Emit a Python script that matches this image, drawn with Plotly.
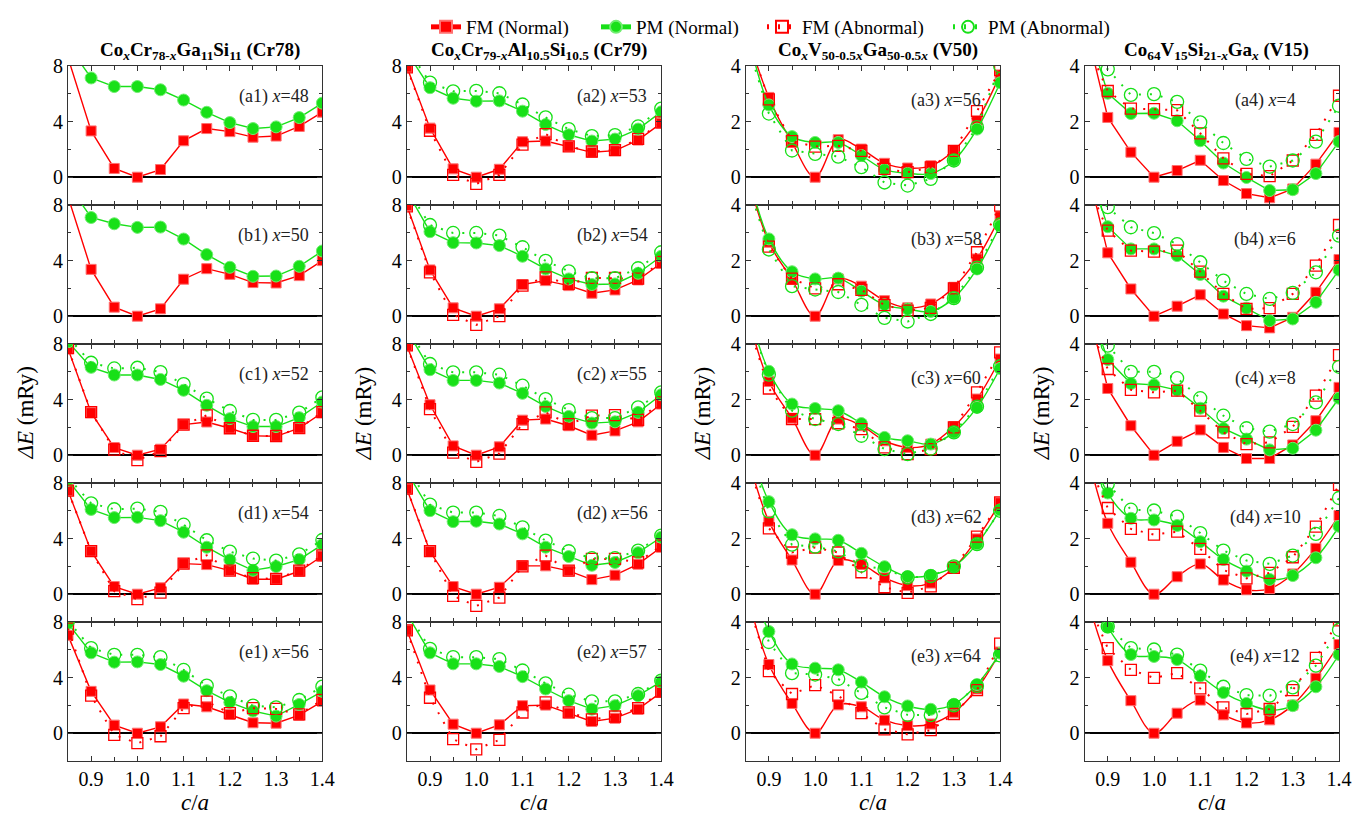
import plotly.graph_objects as go
from plotly.subplots import make_subplots

CA = [0.85, 0.9, 0.95, 1.0, 1.05, 1.1, 1.15, 1.2, 1.25, 1.3, 1.35, 1.4]
ROW_LETTERS = ["a", "b", "c", "d", "e"]

TITLES = [
    "<b>Co<sub><i>x</i></sub>Cr<sub>78-<i>x</i></sub>Ga<sub>11</sub>Si<sub>11</sub> (Cr78)</b>",
    "<b>Co<sub><i>x</i></sub>Cr<sub>79-<i>x</i></sub>Al<sub>10.5</sub>Si<sub>10.5</sub> (Cr79)</b>",
    "<b>Co<sub><i>x</i></sub>V<sub>50-0.5<i>x</i></sub>Ga<sub>50-0.5<i>x</i></sub> (V50)</b>",
    "<b>Co<sub>64</sub>V<sub>15</sub>Si<sub>21-<i>x</i></sub>Ga<sub><i>x</i></sub> (V15)</b>",
]
X_CONTENT = [[48, 50, 52, 54, 56], [53, 54, 55, 56, 57], [56, 58, 60, 62, 64], [4, 6, 8, 10, 12]]

# ---- Cr78 ----
FM_CR78 = [
    [8.6, 3.33, 0.63, 0, 0.55, 2.62, 3.5, 3.28, 2.88, 2.96, 3.65, 4.68],
    [8.6, 3.37, 0.65, 0, 0.53, 2.66, 3.42, 3.01, 2.42, 2.39, 2.92, 4.0],
    [7.66, 3.06, 0.55, 0, 0.43, 2.2, 2.39, 1.94, 1.39, 1.36, 1.94, 3.06],
    [7.45, 3.09, 0.55, 0, 0.46, 2.2, 2.13, 1.7, 1.08, 1.08, 1.65, 2.75],
    [7.04, 3.01, 0.58, 0, 0.46, 2.1, 1.9, 1.35, 0.75, 0.72, 1.3, 2.29],
]
PM_CR78 = [
    [9.5, 7.14, 6.52, 6.52, 6.29, 5.55, 4.67, 3.93, 3.5, 3.62, 4.29, 5.33],
    [9.5, 7.1, 6.65, 6.39, 6.41, 5.55, 4.43, 3.52, 2.87, 2.89, 3.59, 4.69],
    [8.15, 6.32, 5.77, 5.77, 5.45, 4.67, 3.59, 2.63, 2.06, 2.06, 2.7, 3.83],
    [8.2, 6.1, 5.51, 5.53, 5.29, 4.46, 3.38, 2.47, 1.72, 1.99, 2.49, 3.57],
    [7.9, 5.78, 5.11, 5.13, 4.94, 4.1, 3.06, 2.22, 1.59, 1.23, 2.07, 3.01],
]
FMA_CR78 = [
    None,
    None,
    [7.7, 3.1, 0.4, -0.36, 0.3, 2.2, 2.87, 1.94, 1.4, 1.38, 1.95, 3.1],
    [7.45, 3.1, 0.22, -0.36, 0.12, 2.2, 2.8, 1.7, 1.15, 1.1, 1.7, 2.8],
    [7.52, 2.7, -0.12, -0.72, -0.22, 1.81, 2.27, 1.45, 1.8, 1.75, 1.35, 2.4],
]
PMA_CR78 = [
    None,
    None,
    [8.5, 6.65, 6.24, 6.29, 5.98, 5.12, 4.07, 3.18, 2.54, 2.54, 3.06, 4.16],
    [8.4, 6.54, 6.11, 6.16, 5.92, 5.0, 3.88, 3.07, 2.56, 2.42, 2.87, 3.9],
    [8.1, 6.12, 5.64, 5.64, 5.47, 4.55, 3.42, 2.65, 1.98, 1.86, 2.39, 3.35],
]

# ---- Cr79 ----
FM_CR79 = [
    [7.92, 3.53, 0.6, 0, 0.57, 2.55, 2.6, 2.22, 1.79, 1.91, 2.67, 3.89],
    [7.95, 3.33, 0.6, 0, 0.53, 2.28, 2.56, 2.2, 1.65, 1.89, 2.61, 3.81],
    [7.88, 3.63, 0.67, 0, 0.6, 2.52, 2.6, 2.12, 1.44, 1.75, 2.4, 3.68],
    [7.57, 3.07, 0.55, 0, 0.5, 2.04, 2.04, 1.68, 1.05, 1.37, 2.16, 3.38],
    [7.4, 3.11, 0.65, 0, 0.6, 1.98, 2.02, 1.45, 0.84, 1.08, 1.73, 2.94],
]
PM_CR79 = [
    [9.0, 6.44, 5.68, 5.47, 5.49, 4.75, 3.79, 3.05, 2.6, 2.74, 3.46, 4.7],
    [9.0, 6.08, 5.29, 5.27, 5.08, 4.31, 3.4, 2.68, 2.28, 2.32, 3.09, 4.31],
    [9.0, 6.15, 5.38, 5.38, 5.19, 4.45, 3.51, 2.79, 2.31, 2.4, 3.08, 4.35],
    [8.8, 6.01, 5.22, 5.25, 5.05, 4.34, 3.38, 2.71, 2.08, 2.28, 2.99, 4.1],
    [8.6, 5.78, 4.99, 4.99, 4.8, 4.07, 3.18, 2.34, 1.73, 1.98, 2.7, 3.71],
]
FMA_CR79 = [
    [7.9, 3.34, 0.17, -0.48, 0.17, 2.34, 3.1, 2.22, 1.85, 1.95, 2.75, 3.95],
    [7.9, 3.16, 0.1, -0.62, 0.0, 2.2, 2.8, 2.32, 2.75, 2.75, 2.7, 3.9],
    [7.9, 3.32, 0.19, -0.48, 0.12, 2.24, 3.08, 2.24, 2.84, 2.88, 2.55, 3.8],
    [7.6, 3.1, -0.12, -0.84, -0.24, 2.0, 2.78, 1.7, 2.54, 2.54, 2.3, 3.5],
    [7.4, 2.55, -0.43, -1.16, -0.48, 1.49, 2.22, 1.5, 1.0, 1.2, 1.8, 3.0],
]
PMA_CR79 = [
    [9.3, 6.8, 6.18, 6.21, 6.04, 5.23, 4.3, 3.46, 2.96, 3.03, 3.65, 4.94],
    [9.2, 6.56, 5.99, 5.99, 5.8, 4.96, 3.98, 3.23, 2.73, 2.73, 3.45, 4.6],
    [9.2, 6.56, 5.96, 5.96, 5.79, 5.0, 4.04, 3.25, 2.67, 2.67, 3.44, 4.52],
    [9.2, 6.44, 5.87, 5.87, 5.63, 4.81, 3.86, 3.09, 2.59, 2.59, 3.14, 4.22],
    [8.8, 6.07, 5.47, 5.47, 5.33, 4.51, 3.59, 2.77, 2.29, 2.29, 2.82, 3.78],
]

# ---- V50 ----
FM_V50 = [
    [5.3, 2.87, 1.25, 0, 1.35, 1.01, 0.5, 0.33, 0.41, 0.96, 2.03, 3.68],
    [5.3, 2.66, 1.32, 0, 1.34, 1.08, 0.56, 0.3, 0.44, 1.04, 2.06, 3.58],
    [5.3, 2.65, 1.33, 0, 1.3, 1.06, 0.52, 0.28, 0.4, 1.03, 2.02, 3.46],
    [5.2, 2.62, 1.23, 0, 1.21, 1.07, 0.59, 0.31, 0.4, 0.95, 1.99, 3.29],
    [5.2, 2.47, 1.07, 0, 1.02, 0.95, 0.47, 0.27, 0.33, 0.75, 1.59, 2.92],
]
PM_V50 = [
    [5.5, 2.6, 1.46, 1.25, 1.25, 0.78, 0.27, 0.14, 0.13, 0.6, 1.73, 3.4],
    [5.5, 2.78, 1.6, 1.34, 1.37, 0.9, 0.41, 0.26, 0.17, 0.65, 1.7, 3.26],
    [5.6, 3.02, 1.84, 1.68, 1.6, 1.14, 0.64, 0.52, 0.4, 0.82, 1.72, 3.12],
    [5.8, 3.33, 2.14, 1.99, 1.94, 1.47, 0.99, 0.63, 0.68, 0.99, 1.81, 3.03],
    [6.0, 3.66, 2.49, 2.34, 2.28, 1.84, 1.31, 0.98, 0.86, 1.04, 1.75, 2.88],
]
FMA_V50 = [
    [5.2, 2.8, 1.3, 1.1, 1.13, 0.95, 0.3, 0.18, 0.35, 0.95, 2.38, 3.85],
    [5.0, 2.5, 1.35, 1.0, 1.15, 0.95, 0.4, 0.2, 0.3, 1.0, 2.3, 3.98],
    [5.0, 2.4, 1.3, 1.3, 1.15, 0.94, 0.28, 0.04, 0.22, 1.0, 2.26, 3.7],
    [5.0, 2.37, 1.5, 1.68, 1.5, 0.79, 0.25, 0.05, 0.28, 0.95, 2.07, 3.3],
    [5.0, 2.23, 1.41, 1.73, 1.35, 0.72, 0.14, -0.04, 0.11, 0.69, 1.55, 3.22],
]
PMA_V50 = [
    [5.0, 2.29, 0.96, 0.84, 0.74, 0.36, -0.19, -0.3, -0.06, 0.6, 1.8, 4.0],
    [5.0, 2.4, 1.08, 0.96, 0.87, 0.41, -0.06, -0.19, 0.08, 0.65, 1.75, 3.3],
    [5.2, 2.9, 1.6, 1.3, 1.12, 0.7, 0.22, 0.04, 0.24, 0.82, 1.75, 3.2],
    [5.4, 2.98, 1.78, 1.71, 1.54, 1.03, 0.9, 0.6, 0.65, 1.0, 1.8, 3.0],
    [5.6, 3.28, 2.16, 2.11, 1.95, 1.45, 0.93, 0.66, 0.65, 1.0, 1.7, 2.8],
]

# ---- V15 ----
FM_V15 = [
    [5.6, 2.15, 0.9, 0, 0.24, 0.61, -0.12, -0.59, -0.74, -0.42, 0.47, 1.61],
    [5.7, 2.28, 0.98, 0, 0.36, 0.77, 0.08, -0.34, -0.42, -0.04, 0.86, 2.04],
    [5.8, 2.4, 1.06, 0, 0.5, 0.91, 0.28, -0.12, -0.12, 0.37, 1.24, 2.44],
    [5.5, 2.55, 1.15, 0, 0.63, 1.09, 0.51, 0.16, 0.2, 0.73, 1.65, 2.83],
    [5.2, 2.61, 1.17, 0, 0.72, 1.19, 0.66, 0.37, 0.48, 1.01, 1.98, 3.19],
]
PM_V15 = [
    [5.7, 3.02, 2.29, 2.3, 2.03, 1.31, 0.51, -0.01, -0.48, -0.45, 0.13, 1.28],
    [5.7, 3.22, 2.42, 2.42, 2.18, 1.5, 0.72, 0.29, -0.16, -0.1, 0.5, 1.66],
    [5.8, 3.44, 2.58, 2.53, 2.34, 1.69, 0.96, 0.58, 0.19, 0.25, 0.9, 2.05],
    [5.8, 3.64, 2.73, 2.67, 2.47, 1.89, 1.25, 0.83, 0.53, 0.67, 1.31, 2.44],
    [5.8, 3.82, 2.83, 2.76, 2.65, 2.06, 1.46, 1.07, 0.83, 0.99, 1.67, 2.83],
]
FMA_V15 = [
    [5.0, 3.1, 2.47, 2.45, 2.41, 1.58, 0.68, 0.12, 0.04, 0.6, 1.52, 2.93],
    [5.0, 3.08, 2.36, 2.32, 2.36, 1.6, 0.8, 0.26, 0.29, 0.8, 1.82, 3.28],
    [5.0, 3.1, 2.35, 2.26, 2.32, 1.6, 0.82, 0.4, 0.46, 1.02, 2.14, 3.6],
    [5.0, 3.1, 2.35, 2.14, 2.25, 1.63, 0.87, 0.57, 0.77, 1.33, 2.43, 3.93],
    [5.0, 3.06, 2.28, 1.99, 2.16, 1.61, 0.93, 0.69, 0.87, 1.55, 2.71, 4.06],
]
PMA_V15 = [
    [4.8, 3.88, 2.96, 2.99, 2.71, 1.97, 1.23, 0.66, 0.38, 0.6, 1.28, 2.57],
    [4.9, 3.92, 3.2, 2.99, 2.59, 1.94, 1.28, 0.8, 0.62, 0.84, 1.58, 2.9],
    [4.9, 3.94, 3.0, 3.0, 2.77, 2.05, 1.42, 0.97, 0.85, 1.12, 1.9, 3.18],
    [4.9, 3.96, 3.04, 3.01, 2.79, 2.2, 1.57, 1.21, 1.09, 1.39, 2.17, 3.46],
    [4.9, 3.84, 3.06, 3.01, 2.83, 2.25, 1.67, 1.37, 1.35, 1.65, 2.43, 3.72],
]

COLUMNS = [
    (FM_CR78, PM_CR78, FMA_CR78, PMA_CR78),
    (FM_CR79, PM_CR79, FMA_CR79, PMA_CR79),
    (FM_V50, PM_V50, FMA_V50, PMA_V50),
    (FM_V15, PM_V15, FMA_V15, PMA_V15),
]

RED = "#ff0000"
GREEN = "#18e018"
SERIF = "Liberation Serif"

W, H = 1371, 815
ML, MR, MT, MB = 60, 40, 58, 62
PW, PH = W - ML - MR, H - MT - MB

fig = make_subplots(rows=5, cols=4, horizontal_spacing=0.0665, vertical_spacing=0)

names = ["FM (Normal)", "PM (Normal)", "FM (Abnormal)", "PM (Abnormal)"]
legend_ids = ["legend", "legend2", "legend3", "legend4"]
for c, series in enumerate(COLUMNS):
    for r in range(5):
        spline = (c == 2) or (c == 3 and r >= 3)
        for k, data in enumerate(series):
            vals = data[r]
            if vals is None:
                continue
            color = RED if k in (0, 2) else GREEN
            abnormal = k >= 2
            if k == 0:
                marker = dict(symbol="square", size=10, color=RED, line=dict(color="#ff7070", width=1))
            elif k == 1:
                marker = dict(symbol="circle", size=12, color=GREEN, line=dict(color="#70ee70", width=1))
            elif k == 2:
                marker = dict(symbol="square-open", size=11, color=RED, line=dict(width=1.3))
            else:
                marker = dict(symbol="circle-open", size=13, color=GREEN, line=dict(width=1.3))
            line = dict(color=color, width=1.4 if not abnormal else 2,
                        dash="solid" if not abnormal else "2px,9px",
                        shape="spline" if (spline and not abnormal) else "linear")
            fig.add_trace(
                go.Scatter(x=CA, y=vals, mode="lines+markers", name=names[k],
                           marker=marker, line=line, legend=legend_ids[k],
                           showlegend=(c == 0 and r == 2)),
                row=r + 1, col=c + 1)

for c in range(4):
    for r in range(5):
        idx = r * 4 + c + 1
        xa = "xaxis" if idx == 1 else f"xaxis{idx}"
        ya = "yaxis" if idx == 1 else f"yaxis{idx}"
        fig.layout[xa].update(
            range=[0.85, 1.4], tickmode="linear", tick0=0.9, dtick=0.1, tickformat=".1f",
            showticklabels=(r == 4),
            ticks="inside", ticklen=5, tickwidth=1.2, tickcolor="#333",
            minor=dict(ticks="inside", ticklen=4, tickwidth=1.2, tickcolor="#333",
                       dtick=0.05, tick0=0.85, showgrid=False),
            showline=True, linecolor="#333", linewidth=1.2, mirror="ticks",
            showgrid=False, zeroline=False,
            tickfont=dict(family=SERIF, size=20, color="black"))
        if c < 2:
            yr, dt = [-2, 8], 4
        else:
            yr, dt = [-1, 4], 2
        fig.layout[ya].update(
            range=yr, tickmode="linear", tick0=0, dtick=dt,
            ticks="inside", ticklen=5, tickwidth=1.2, tickcolor="#333",
            minor=dict(ticks="inside", ticklen=3, tickwidth=1.2, tickcolor="#333",
                       dtick=dt / 2, showgrid=False),
            showline=True, linecolor="#333", linewidth=1.2, mirror="ticks",
            showgrid=False, zeroline=True, zerolinecolor="black", zerolinewidth=1.5,
            tickfont=dict(family=SERIF, size=20, color="black"))

annotations = []
label_x = [1.295, 1.294, 1.283, 1.24]
label_y = [5.8, 5.8, 2.75, 2.75]
for c in range(4):
    dom = fig.layout["xaxis" if c == 0 else f"xaxis{c + 1}"].domain
    cx = (dom[0] + dom[1]) / 2
    annotations.append(dict(text=TITLES[c], xref="paper", yref="paper", x=cx + 5 / PW, y=1 + 15 / PH,
                            xanchor="center", yanchor="middle", showarrow=False,
                            font=dict(family=SERIF, size=19, color="black")))
    annotations.append(dict(text="<i>ΔE</i> (mRy)", xref="paper", yref="paper",
                            x=dom[0] - 43 / PW, y=0.5, textangle=-90,
                            xanchor="center", yanchor="middle", showarrow=False,
                            font=dict(family=SERIF, size=23, color="black")))
    annotations.append(dict(text="<i>c</i>/<i>a</i>", xref="paper", yref="paper",
                            x=cx, y=-42 / PH, xanchor="center", yanchor="middle", showarrow=False,
                            font=dict(family=SERIF, size=23, color="black")))
    for r in range(5):
        idx = r * 4 + c + 1
        annotations.append(dict(
            text=f"({ROW_LETTERS[r]}{c + 1}) <i>x</i>={X_CONTENT[c][r]}",
            xref="x" if idx == 1 else f"x{idx}", yref="y" if idx == 1 else f"y{idx}",
            x=label_x[c], y=label_y[c], xanchor="center", yanchor="middle", showarrow=False,
            font=dict(family=SERIF, size=18, color="#222")))

legend_px = [418, 588, 754, 940]
leg_common = dict(orientation="h", xanchor="left", y=1 + MT / PH, yanchor="top",
                  font=dict(family=SERIF, size=19, color="black"), bgcolor="rgba(0,0,0,0)",
                  itemsizing="constant")
layout_legends = {}
for i, lid in enumerate(legend_ids):
    layout_legends[lid] = dict(x=(legend_px[i] - ML) / PW, **leg_common)

fig.update_layout(
    width=W, height=H, margin=dict(l=ML, r=MR, t=MT, b=MB, autoexpand=False),
    paper_bgcolor="white", plot_bgcolor="white",
    font=dict(family=SERIF, color="black"),
    annotations=annotations,
    **layout_legends,
)

fig.write_html("out.html")
